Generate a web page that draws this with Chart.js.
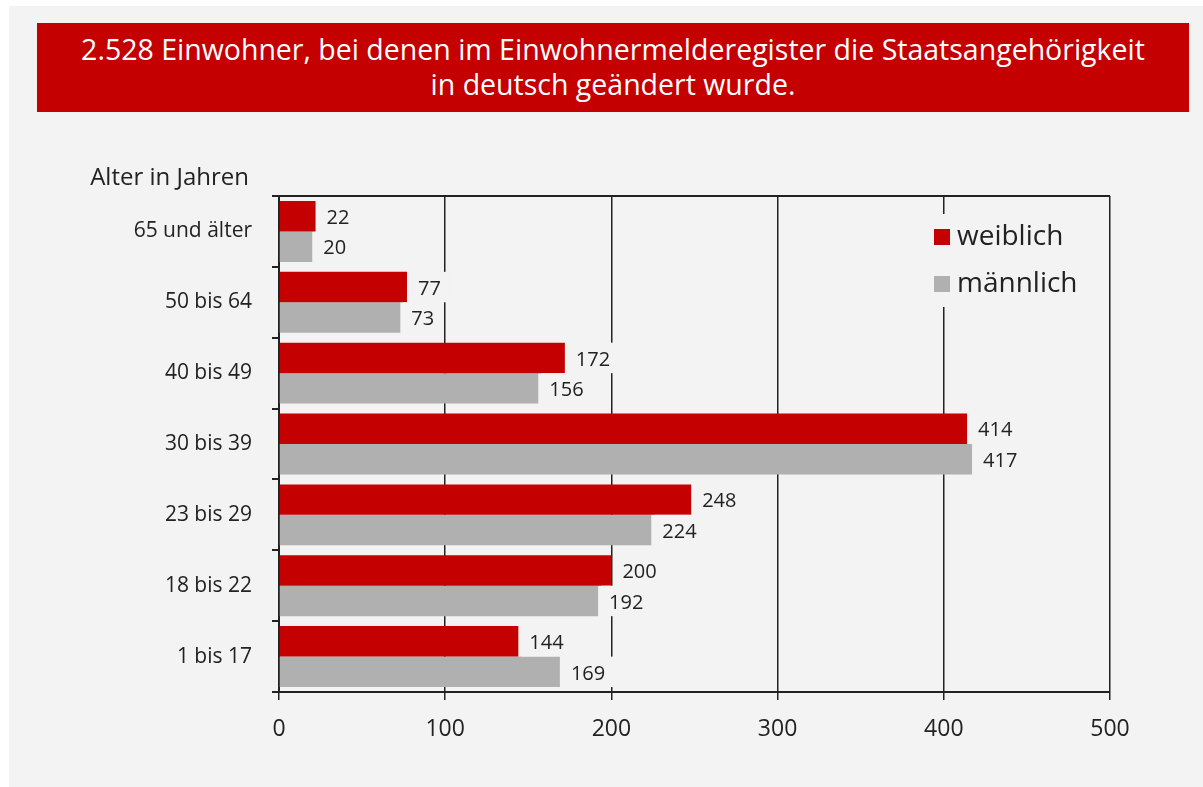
<!DOCTYPE html>
<html lang="de">
<head>
<meta charset="utf-8">
<title>Einbürgerungen nach Alter</title>
<script src="https://cdn.jsdelivr.net/npm/chart.js@4/dist/chart.umd.min.js"></script>
<style>
  html, body { margin: 0; padding: 0; background: #fff; }
  body { width: 1203px; height: 787px; position: relative; overflow: hidden; font-family: "Open Sans", sans-serif; }
  #panel { position: absolute; left: 9px; top: 6px; right: 0; bottom: 0; background: #f3f3f3; }
  #titel {
    position: absolute; left: 37px; top: 23px; width: 1152px; height: 89px;
    background: #c40000; color: #fff; font-size: 28.5px; line-height: 35px;
    text-align: center; box-sizing: border-box; padding-top: 9px;
  }
  #grafik { position: absolute; left: 0; top: 0; }
</style>
</head>
<body>
<div id="panel"></div>
<div id="titel">2.528 Einwohner, bei denen im Einwohnermelderegister die Staatsangehörigkeit<br>in deutsch geändert wurde.</div>
<canvas id="grafik" width="1203" height="787"></canvas>
<script>
const altersgruppen = ["65 und älter", "50 bis 64", "40 bis 49", "30 bis 39", "23 bis 29", "18 bis 22", "1 bis 17"];
const weiblich = [22, 77, 172, 414, 248, 200, 144];
const maennlich = [20, 73, 156, 417, 224, 192, 169];
const achseMax = 500;
const achseSchritt = 100;

const ROT = "#c40000";
const GRAU = "#b0b0b0";
const HINTERGRUND = "#f3f3f3";
const TEXT = "#222";
const SCHRIFT = "'Open Sans', sans-serif";

// Werte rechts neben den Balken, mit Hintergrund, der die Gitterlinien verdeckt
const wertePlugin = {
  id: "werte",
  afterDatasetsDraw(chart) {
    const ctx = chart.ctx;
    ctx.save();
    ctx.font = "20px " + SCHRIFT;
    ctx.textBaseline = "middle";
    ctx.textAlign = "left";
    chart.data.datasets.forEach((ds, i) => {
      chart.getDatasetMeta(i).data.forEach((bar, j) => {
        const txt = String(ds.data[j]);
        const w = ctx.measureText(txt).width;
        const h = bar.height;
        ctx.fillStyle = HINTERGRUND;
        ctx.fillRect(bar.x + 3, bar.y - h / 2, w + 16, h);
        ctx.fillStyle = TEXT;
        ctx.fillText(txt, bar.x + 11, bar.y + 2);
      });
    });
    ctx.restore();
  },
};

// Rahmen oben, Achsentitel und Legende
const rahmenPlugin = {
  id: "rahmen",
  beforeDatasetsDraw(chart) {
    const { ctx, chartArea } = chart;
    ctx.save();
    ctx.strokeStyle = TEXT;
    ctx.lineWidth = 2;
    ctx.beginPath();
    ctx.moveTo(chartArea.left, chartArea.top);
    ctx.lineTo(chartArea.right, chartArea.top);
    ctx.stroke();
    ctx.restore();
  },
  afterDraw(chart) {
    const { ctx, chartArea } = chart;
    ctx.save();
    ctx.fillStyle = TEXT;
    ctx.font = "24px " + SCHRIFT;
    ctx.textAlign = "right";
    ctx.textBaseline = "middle";
    ctx.fillText("Alter in Jahren", chartArea.left - 30, chartArea.top - 18);

    // Legende
    const x0 = chartArea.right - 185;
    const y0 = chartArea.top + 18;
    ctx.fillStyle = HINTERGRUND;
    ctx.fillRect(x0, y0, 175, 93);
    ctx.font = "28px " + SCHRIFT;
    ctx.textAlign = "left";
    chart.data.datasets.forEach((ds, i) => {
      const cy = y0 + 23 + i * 47;
      ctx.fillStyle = ds.backgroundColor;
      ctx.fillRect(x0 + 9, cy - 8, 16, 16);
      ctx.fillStyle = TEXT;
      ctx.fillText(ds.label, x0 + 32, cy);
    });
    ctx.restore();
  },
};

new Chart(document.getElementById("grafik"), {
  type: "bar",
  data: {
    labels: altersgruppen,
    datasets: [
      { label: "weiblich", data: weiblich, backgroundColor: ROT },
      { label: "männlich", data: maennlich, backgroundColor: GRAU },
    ],
  },
  options: {
    indexAxis: "y",
    responsive: false,
    animation: false,
    devicePixelRatio: 1,
    layout: { padding: { top: 196, right: 93, left: 0, bottom: 0 } },
    datasets: { bar: { categoryPercentage: 0.86, barPercentage: 1 } },
    plugins: { legend: { display: false }, tooltip: { enabled: false } },
    scales: {
      x: {
        min: 0,
        max: achseMax,
        ticks: { stepSize: achseSchritt, color: TEXT, font: { family: SCHRIFT, size: 23 }, padding: 16 },
        grid: { color: TEXT, lineWidth: 1.5, tickLength: 8, drawTicks: true },
        border: { color: TEXT, width: 2 },
        afterFit(scale) { scale.height = 95; },
      },
      y: {
        ticks: { color: TEXT, font: { family: SCHRIFT, size: 21 }, padding: 20 },
        grid: { offset: true, drawOnChartArea: false, color: TEXT, lineWidth: 2, tickLength: 7 },
        border: { color: TEXT, width: 2 },
        afterFit(scale) { scale.width = 279; },
      },
    },
  },
  plugins: [wertePlugin, rahmenPlugin],
});
</script>
</body>
</html>
